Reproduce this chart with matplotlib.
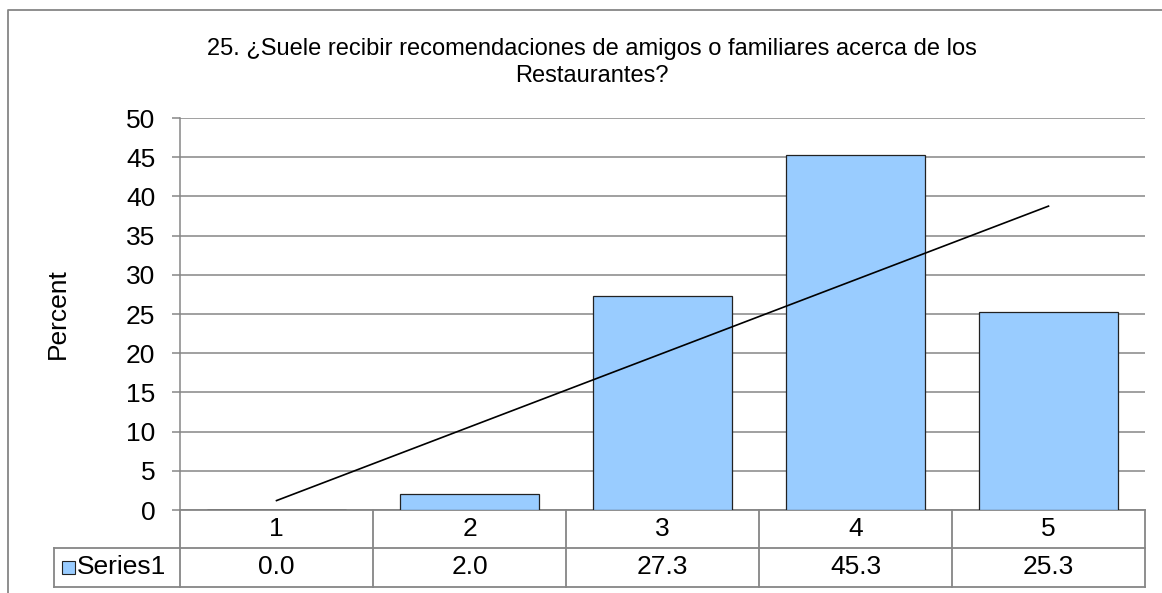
import numpy as np
import matplotlib.pyplot as plt
from matplotlib.lines import Line2D
from matplotlib.patches import Rectangle

plt.rcParams['font.family'] = ['Liberation Sans', 'DejaVu Sans']

# data
categories = ['1', '2', '3', '4', '5']
percent = [0.0, 2.0, 27.3, 45.3, 25.3]
series_name = 'Series1'
title = ('25. \u00bfSuele recibir recomendaciones de amigos o familiares acerca de los\n'
         'Restaurantes?')

W, H = 1162, 593
fig = plt.figure(figsize=(W / 100, H / 100), dpi=100)
gray = '#868686'
bar_color = '#99CCFF'
fs = 19

# plot area in pixels: left 180, right 1145, top 118, bottom 510
ax = fig.add_axes([180 / W, (H - 510) / H, 965 / W, 392 / H])

x = np.arange(1, len(percent) + 1)
ax.bar(x, percent, width=0.72, color=bar_color, edgecolor='#222222',
       linewidth=0.9, zorder=3)

# linear trendline
k, b = np.polyfit(x, percent, 1)
ax.plot([x[0], x[-1]], [k * x[0] + b, k * x[-1] + b], color='black',
        linewidth=1.2, zorder=4)

ax.set_xlim(0.5, len(percent) + 0.5)
ax.set_ylim(0, 50)
ax.set_yticks(np.arange(0, 51, 5))
ax.set_xticks([])
ax.yaxis.grid(True, color=gray, linewidth=1.1, zorder=0)
ax.set_axisbelow(True)
for side in ['top', 'right', 'bottom']:
    ax.spines[side].set_visible(False)
ax.spines['left'].set_color(gray)
ax.spines['left'].set_linewidth(1.1)
ax.tick_params(axis='y', direction='out', length=5.8, width=1.1, color=gray,
               labelsize=fs, pad=12)

ax.set_ylabel('Percent', fontsize=fs, ha='center', va='center')
ax.yaxis.set_label_coords((58 - 180) / 965, 0.5)

# data table under the plot
r1 = -38 / 392
r2 = -77 / 392
hdr = (54 - 180) / 965
tkw = dict(transform=ax.transAxes, color=gray, linewidth=1.3, clip_on=False)
ax.add_line(Line2D([0, 1], [0, 0], **tkw))
ax.add_line(Line2D([hdr, 1], [r1, r1], **tkw))
ax.add_line(Line2D([hdr, 1], [r2, r2], **tkw))
ax.add_line(Line2D([hdr, hdr], [r1, r2], **tkw))
n = len(categories)
for i in range(n + 1):
    ax.add_line(Line2D([i / n, i / n], [0, r2], **tkw))
for i, (c, v) in enumerate(zip(categories, percent)):
    cx = (i + 0.5) / n
    ax.text(cx, r1 / 2, c, transform=ax.transAxes, ha='center',
            va='center', fontsize=fs)
    ax.text(cx, (r1 + r2) / 2, f'{v:.1f}', transform=ax.transAxes,
            ha='center', va='center', fontsize=fs)

# legend key in the header cell
ax.add_patch(Rectangle(((62 - 180) / 965, (r1 + r2) / 2 - 6.5 / 392),
                       13 / 965, 13 / 392, transform=ax.transAxes,
                       facecolor=bar_color, edgecolor='#222222',
                       linewidth=0.8, clip_on=False))
ax.text((77 - 180) / 965, (r1 + r2) / 2, series_name, transform=ax.transAxes,
        ha='left', va='center', fontsize=fs)

# title
fig.text(592 / W, 1 - 38 / H, title, ha='center', va='top', fontsize=17,
         multialignment='center', linespacing=1.3)

# chart border (left and top visible)
fig.add_artist(Line2D([8 / W, 8 / W, 1], [0, 1 - 10 / H, 1 - 10 / H],
                      transform=fig.transFigure, color=gray, linewidth=1.3))

fig.savefig('out.png', dpi=100)
